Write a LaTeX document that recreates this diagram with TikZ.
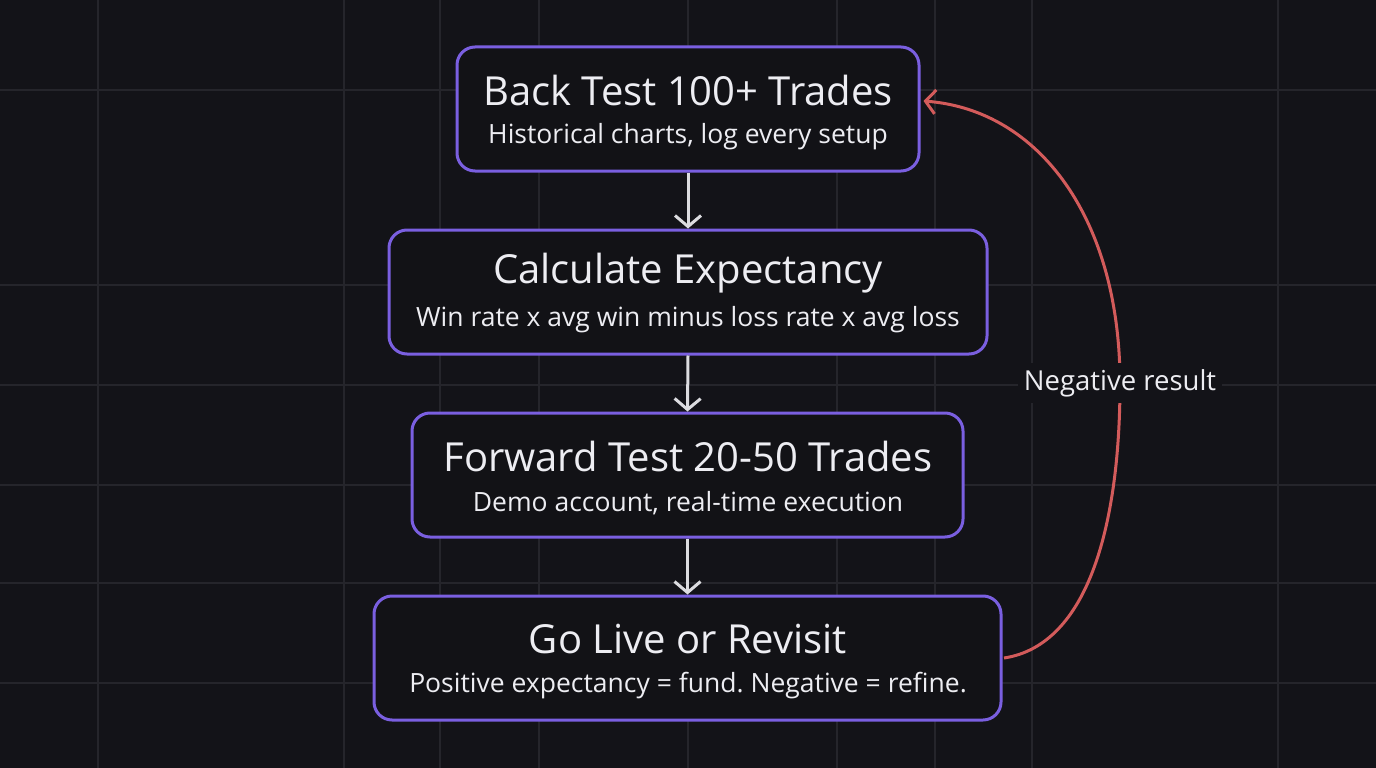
\documentclass[tikz,border=0pt]{standalone}
\usepackage{fontspec}
\setmainfont{Open Sans}
\usetikzlibrary{arrows.meta}
\frenchspacing
\definecolor{bg}{HTML}{131318}
\definecolor{gridc}{HTML}{25252B}
\definecolor{boxfill}{HTML}{121216}
\definecolor{boxborder}{HTML}{7A5FE0}
\definecolor{txt}{HTML}{EDEDF2}
\definecolor{arrowc}{HTML}{DCDCE0}
\definecolor{redc}{HTML}{D35B5B}
\tikzset{
  stepbox/.style={draw=boxborder, line width=3pt, fill=boxfill, rounded corners=18pt, inner sep=0pt},
  ttl/.style={text=txt, font=\fontsize{40}{44}\selectfont},
  sub/.style={text=txt, font=\fontsize{26.5}{30}\selectfont},
  flow/.style={draw=arrowc, line width=3pt, -{Straight Barb[length=11pt,width=26pt,line width=3pt]}},
  back/.style={draw=redc, line width=3pt, -{Straight Barb[length=10pt,width=24pt,line width=3pt]}},
  gridline/.style={draw=gridc, line width=1.3pt}
}
\begin{document}
\begin{tikzpicture}[x=1pt,y=-1pt]
\fill[bg] (0,0) rectangle (1376,768);
\useasboundingbox (0,0) rectangle (1376,768);
\foreach \gx in {98,344,440,539,688,837,935,1032,1278} \draw[gridline] (\gx,0) -- (\gx,768);
\foreach \gy in {90,285,385,485,583,683} \draw[gridline] (0,\gy) -- (1376,\gy);

% boxes
\node[stepbox, minimum width=462pt, minimum height=124pt] (b1) at (688,109) {};
\node[ttl] (t1) at (688,90) {Back Test 100+ Trades};
\node[sub] (s1) at (688,137) {Historical charts, log every setup};

\node[stepbox, minimum width=598pt, minimum height=124pt] (b2) at (688,292) {};
\node[ttl] (t2) at (688,273) {Calculate Expectancy};
\node[sub] (s2) at (688,320) {Win rate x avg win minus loss rate x avg loss};

\node[stepbox, minimum width=551pt, minimum height=124pt] (b3) at (687.5,475) {};
\node[ttl] (t3) at (688,456) {Forward Test 20-50 Trades};
\node[sub] (s3) at (688,503) {Demo account, real-time execution};

\node[stepbox, minimum width=627pt, minimum height=124pt] (b4) at (687.5,658) {};
\node[ttl] (t4) at (688,639) {Go Live or Revisit};
\node[sub] (s4) at (688,686) {Positive expectancy = fund. Negative = refine.};

% flow arrows
\draw[flow] (b1.south) -- (b2.north);
\draw[flow] (b2.south) -- (b3.north);
\draw[flow] (b3.south) -- (b4.north);

% feedback
\coordinate (lab) at (1120,383);
\draw[back] ([xshift=1.5pt]b4.east) .. controls (1090,645) and (1120,520) .. (lab)
  .. controls (1120,220) and (1040,110) .. ([xshift=3pt,yshift=8pt]b1.east);
\node[fill=bg, text=txt, font=\fontsize{27.5}{30}\selectfont, inner xsep=6pt, inner ysep=6pt] (neg) at (lab) {Negative result};
\end{tikzpicture}
\end{document}
